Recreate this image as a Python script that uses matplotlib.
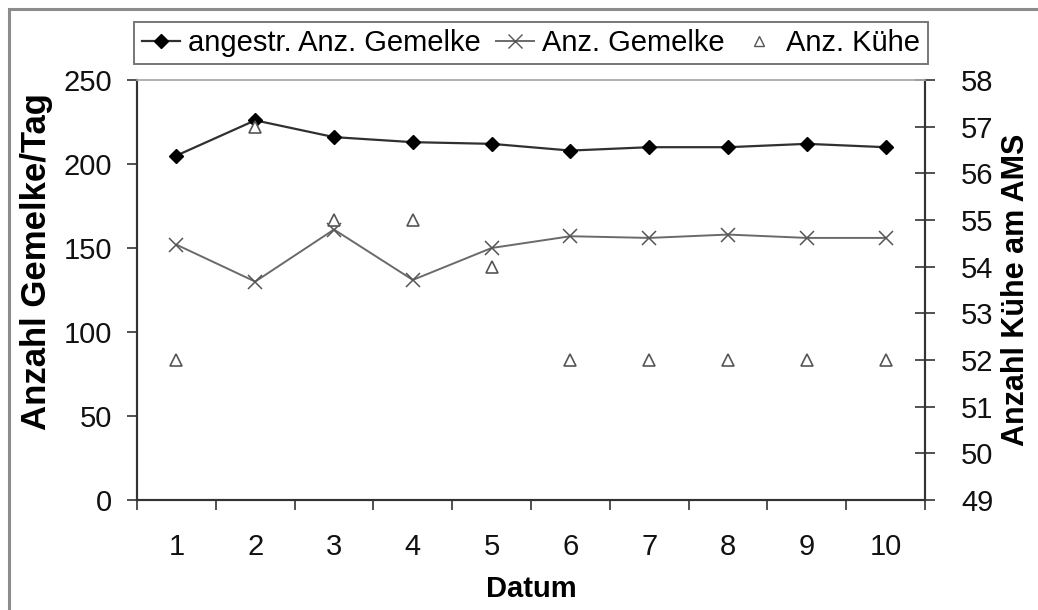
import matplotlib
matplotlib.use("Agg")
import matplotlib.pyplot as plt
import matplotlib.patches as mpatches
from matplotlib.lines import Line2D
from matplotlib.ticker import FixedLocator, NullFormatter

plt.rcParams['font.family'] = ['Liberation Sans', 'DejaVu Sans']

# Tageswerte
datum = [1, 2, 3, 4, 5, 6, 7, 8, 9, 10]
angestr_gemelke = [205, 226, 216, 213, 212, 208, 210, 210, 212, 210]
anz_gemelke = [152, 130, 161, 131, 150, 157, 156, 158, 156, 156]
anz_kuehe = [52, 57, 55, 55, 54, 52, 52, 52, 52, 52]

W, H = 1038, 610
fig = plt.figure(figsize=(W / 100, H / 100), dpi=100)
ax = fig.add_axes([137 / W, 1 - 500 / H, (925 - 137) / W, (500 - 80) / H])
ax2 = ax.twinx()

# Rahmen um das Diagramm
frame = mpatches.Rectangle((9 / W, -0.1), 1.2, 1.1 - 9 / H, transform=fig.transFigure,
                           fill=False, edgecolor='#8c8c8c', linewidth=2.2)
fig.patches.append(frame)

ax.plot(datum, angestr_gemelke, color='#303030', linewidth=1.6, marker='D',
        markersize=7, markerfacecolor='black', markeredgecolor='black', zorder=3)
ax.plot(datum, anz_gemelke, color='#6a6a6a', linewidth=1.4, marker='x',
        markersize=10, markeredgewidth=1.1, markeredgecolor='#555555', zorder=3)
ax2.plot(datum, anz_kuehe, linestyle='none', marker='^', markersize=9,
         markerfacecolor='white', markeredgecolor='#555555', markeredgewidth=1.2)

ax.set_xlim(0.5, 10.5)
ax.set_ylim(0, 250)
ax2.set_ylim(49, 58)

fs = 21
ax.set_xticks(datum)
ax.xaxis.set_minor_locator(FixedLocator([x + 0.5 for x in range(0, 11)]))
ax.xaxis.set_minor_formatter(NullFormatter())
ax.tick_params(axis='x', which='major', length=0, pad=24, labelsize=fs, colors='#111111')
ax.tick_params(axis='x', which='minor', length=7, width=1.2, direction='out', color='#333333')
ax.set_yticks(range(0, 251, 50))
ax.tick_params(axis='y', length=7, width=1.2, direction='out', pad=11, labelsize=fs,
               color='#333333', labelcolor='#111111')
ax2.set_yticks(range(49, 59))
ax2.tick_params(axis='y', length=14, width=1.2, direction='inout', pad=19, labelsize=fs,
                color='#333333', labelcolor='#111111')

for a in (ax, ax2):
    a.spines['top'].set_color('#b0b0b0')
    a.spines['top'].set_linewidth(1.2)
    for s in ('left', 'right', 'bottom'):
        a.spines[s].set_color('#333333')
        a.spines[s].set_linewidth(1.5)

ax.set_xlabel('Datum', fontsize=fs, fontweight='bold', labelpad=10)
ax.set_ylabel('Anzahl Gemelke/Tag', fontsize=25, fontweight='bold')
ax.yaxis.label.set_verticalalignment('center')
ax.yaxis.set_label_coords((37 - 137) / 788, (500 - 262) / 420)
ax2.set_ylabel('Anzahl Kühe am AMS', fontsize=22, fontweight='bold', labelpad=5)

handles = [
    Line2D([], [], color='#303030', linewidth=1.6, marker='D', markersize=7,
           markerfacecolor='black', markeredgecolor='black'),
    Line2D([], [], color='#6a6a6a', linewidth=1.4, marker='x', markersize=10,
           markeredgecolor='#555555'),
    Line2D([], [], linestyle='none', marker='^', markersize=7,
           markerfacecolor='white', markeredgecolor='#555555'),
]
labels = ['angestr. Anz. Gemelke', 'Anz. Gemelke', 'Anz. Kühe']
leg = fig.legend(handles, labels, loc='center', bbox_to_anchor=(531 / W, 1 - 43 / H),
                 ncol=3, fontsize=fs, frameon=True, fancybox=False, handlelength=1.3,
                 handletextpad=0.3, columnspacing=0.5, borderpad=0.25, borderaxespad=0)
leg.get_frame().set_edgecolor('#555555')
leg.get_frame().set_linewidth(1.4)

fig.savefig('out.png', dpi=100)
